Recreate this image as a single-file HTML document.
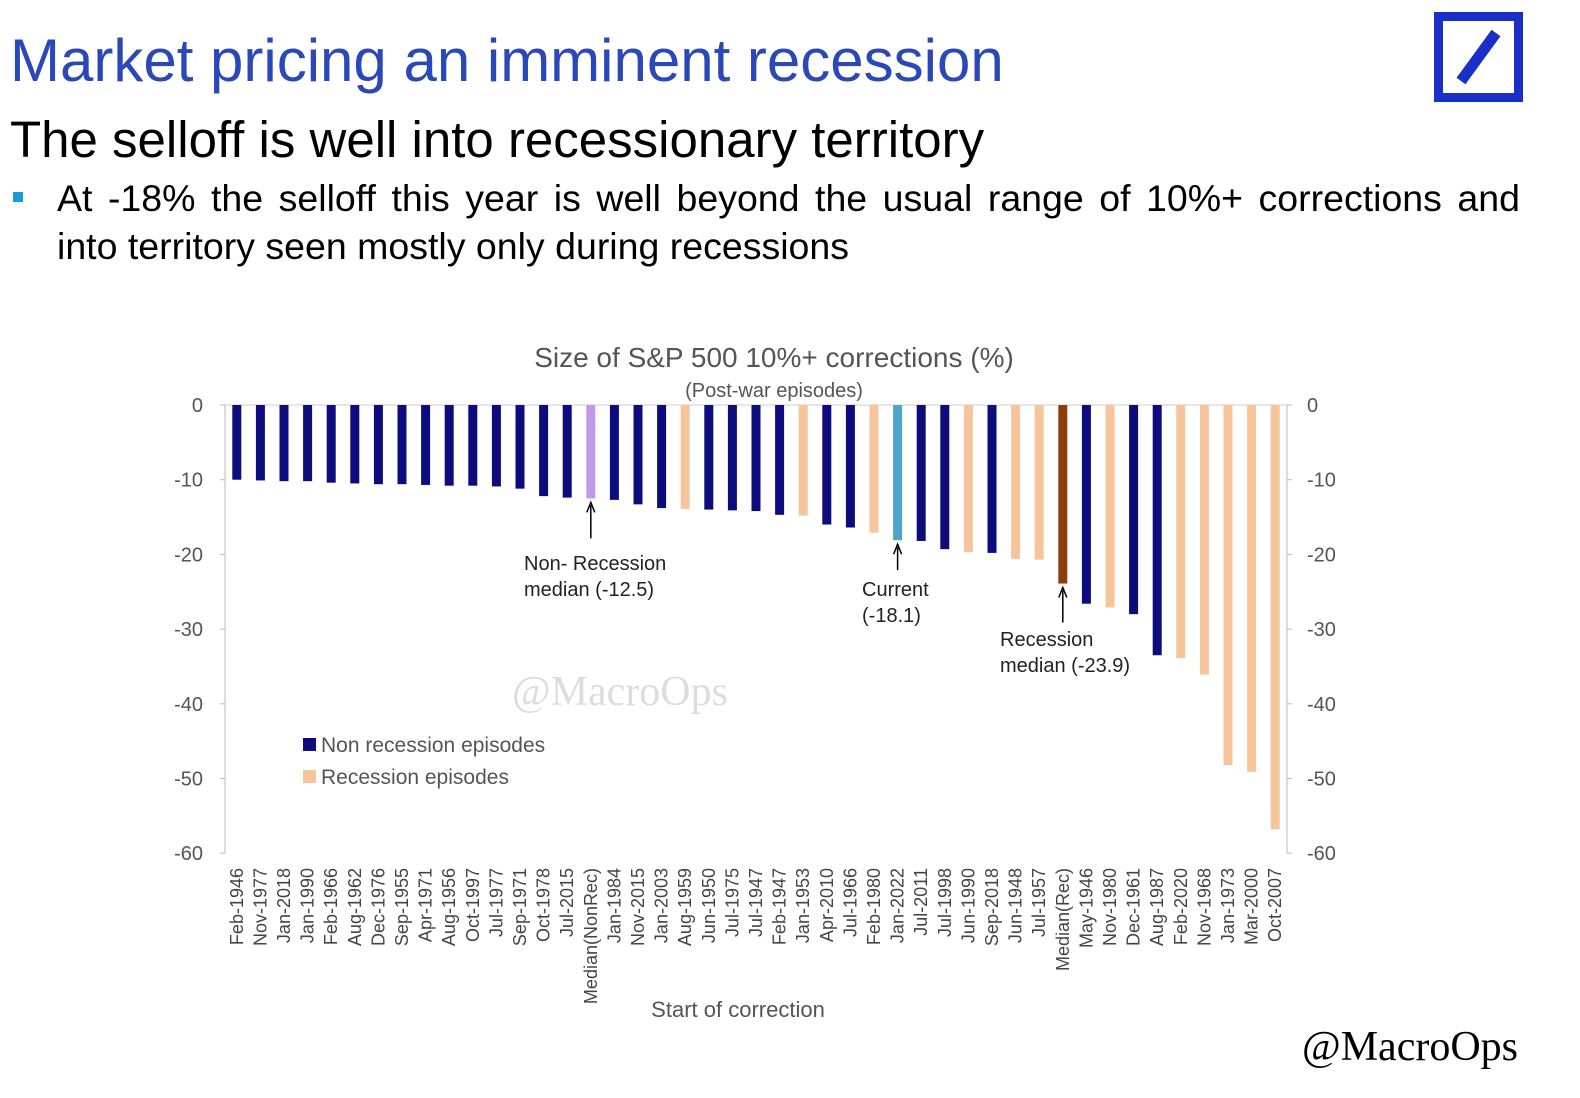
<!DOCTYPE html>
<html><head><meta charset="utf-8"><style>
body{margin:0;width:1580px;height:1098px;background:#fff;overflow:hidden;font-family:"Liberation Sans",sans-serif;position:relative}
.abs{position:absolute;white-space:nowrap}
</style></head><body>
<div class="abs" style="left:10px;top:26px;font-size:60px;color:#2a48b8">Market pricing an imminent recession</div>
<div class="abs" style="left:10px;top:110px;font-size:51px;color:#000">The selloff is well into recessionary territory</div>
<div class="abs" style="left:13px;top:192px;width:10px;height:10px;background:#1a9ad6"></div>
<div class="abs" style="left:57px;top:174px;width:1463px;white-space:normal;font-size:37.5px;line-height:48px;color:#000">
<div style="text-align:justify;text-align-last:justify">At -18% the selloff this year is well beyond the usual range of 10%+ corrections and</div>
<div>into territory seen mostly only during recessions</div></div>
<div class="abs" style="left:1434px;top:12px;width:71px;height:72px;border:9px solid #1a2fc8">
<svg width="71" height="72"><line x1="18" y1="60" x2="53" y2="12" stroke="#1a2fc8" stroke-width="11"/></svg></div>
<svg id="chart" width="1580" height="1098" style="position:absolute;left:0;top:0"></svg>
<script>
const categories=["Feb-1946","Nov-1977","Jan-2018","Jan-1990","Feb-1966","Aug-1962","Dec-1976","Sep-1955","Apr-1971","Aug-1956","Oct-1997","Jul-1977","Sep-1971","Oct-1978","Jul-2015","Median(NonRec)","Jan-1984","Nov-2015","Jan-2003","Aug-1959","Jun-1950","Jul-1975","Jul-1947","Feb-1947","Jan-1953","Apr-2010","Jul-1966","Feb-1980","Jan-2022","Jul-2011","Jul-1998","Jun-1990","Sep-2018","Jun-1948","Jul-1957","Median(Rec)","May-1946","Nov-1980","Dec-1961","Aug-1987","Feb-2020","Nov-1968","Jan-1973","Mar-2000","Oct-2007"];
const values=[-10.0,-10.1,-10.2,-10.2,-10.4,-10.5,-10.6,-10.6,-10.7,-10.8,-10.8,-10.9,-11.2,-12.2,-12.4,-12.5,-12.7,-13.3,-13.8,-13.9,-14.0,-14.1,-14.2,-14.7,-14.8,-16.0,-16.4,-17.1,-18.1,-18.2,-19.3,-19.7,-19.8,-20.6,-20.7,-23.9,-26.6,-27.1,-28.0,-33.5,-33.9,-36.1,-48.2,-49.1,-56.8];
const types=["n","n","n","n","n","n","n","n","n","n","n","n","n","n","n","mn","n","n","n","r","n","n","n","n","r","n","n","r","c","n","n","r","n","r","r","mr","n","r","n","n","r","r","r","r","r"];
const yTicks=[0,-10,-20,-30,-40,-50,-60];
const colors={n:"#0c0c7c",r:"#f6c59b",mn:"#c09ae6",c:"#4aa5c8",mr:"#8a3e0c"};
const NS="http://www.w3.org/2000/svg";
const svg=document.getElementById('chart');
const X0=225,X1=1287,Y0=405,PU=7.47;
const bw=(X1-X0)/categories.length;
const y=v=>Y0-v*PU;
const xc=i=>X0+bw*(i+0.5);
function mk(t,a,txt){const e=document.createElementNS(NS,t);for(const k in a)e.setAttribute(k,a[k]);if(txt!==undefined)e.textContent=txt;svg.appendChild(e);return e;}
let e;
e=mk('line',{x1:X0,y1:Y0,x2:X0,y2:y(-60),stroke:'#bbb'});


e=mk('line',{x1:X1,y1:Y0,x2:X1,y2:y(-60),stroke:'#bbb'});


e=mk('line',{x1:X0,y1:Y0,x2:X1,y2:Y0,stroke:'#ccc'});


yTicks.forEach(t=>{
 e=mk('text',{x:203,y:y(t)+7,'text-anchor':'end','font-size':20,fill:'#555'},t);
 
 
 e=mk('text',{x:1307,y:y(t)+7,'font-size':20,fill:'#555'},t);
 
 
 e=mk('line',{x1:X0-5,y1:y(t),x2:X0,y2:y(t),stroke:'#bbb'});
 
 
 e=mk('line',{x1:X1,y1:y(t),x2:X1+5,y2:y(t),stroke:'#bbb'});
 
 
});
categories.forEach((c,i)=>{
 e=mk('rect',{x:xc(i)-4.5,y:Y0,width:9,height:y(values[i])-Y0,fill:colors[types[i]]});
 
 
 e=mk('text',{transform:`translate(${xc(i)+6},${868}) rotate(-90)`,'text-anchor':'end','font-size':18,fill:'#444'},c);
 
 
});
e=mk('text',{x:774,y:367,'text-anchor':'middle','font-size':28,fill:'#555'},'Size of S&P 500 10%+ corrections (%)');


e=mk('text',{x:774,y:397,'text-anchor':'middle','font-size':20,fill:'#555'},'(Post-war episodes)');


e=mk('text',{x:738,y:1017,'text-anchor':'middle','font-size':22,fill:'#555'},'Start of correction');


e=mk('text',{x:620,y:705,'text-anchor':'middle','font-size':42,fill:'#ddd','font-family':'Liberation Serif, serif'},'@MacroOps');


e=mk('text',{x:1518,y:1060,'text-anchor':'end','font-size':42,fill:'#000','font-family':'Liberation Serif, serif'},'@MacroOps');


e=mk('rect',{x:303,y:738,width:13,height:13,fill:colors.n});


e=mk('text',{x:321,y:752,'font-size':21,fill:'#555'},'Non recession episodes');


e=mk('rect',{x:303,y:770,width:13,height:13,fill:colors.r});


e=mk('text',{x:321,y:784,'font-size':21,fill:'#555'},'Recession episodes');


function ann(i,len,lines,tx,ty,name){
 const x=xc(i),yb=y(values[i])+4;
 e=mk('line',{x1:x,y1:yb+len,x2:x,y2:yb+3,stroke:'#000','stroke-width':1.5});
 
 
 e=mk('path',{d:`M${x-4},${yb+10} L${x},${yb} L${x+4},${yb+10}`,fill:'none',stroke:'#000','stroke-width':1.5});
 
 
 lines.forEach((l,k)=>{
  e=mk('text',{x:tx,y:ty+k*26,'font-size':20,fill:'#222'},l);
  
  
 });
}
ann(15,36,['Non- Recession','median (-12.5)'],524,570,'nonrec-median');
ann(28,26,['Current','(-18.1)'],862,596,'current');
ann(35,35,['Recession','median (-23.9)'],1000,646,'rec-median');
</script>
</body></html>
